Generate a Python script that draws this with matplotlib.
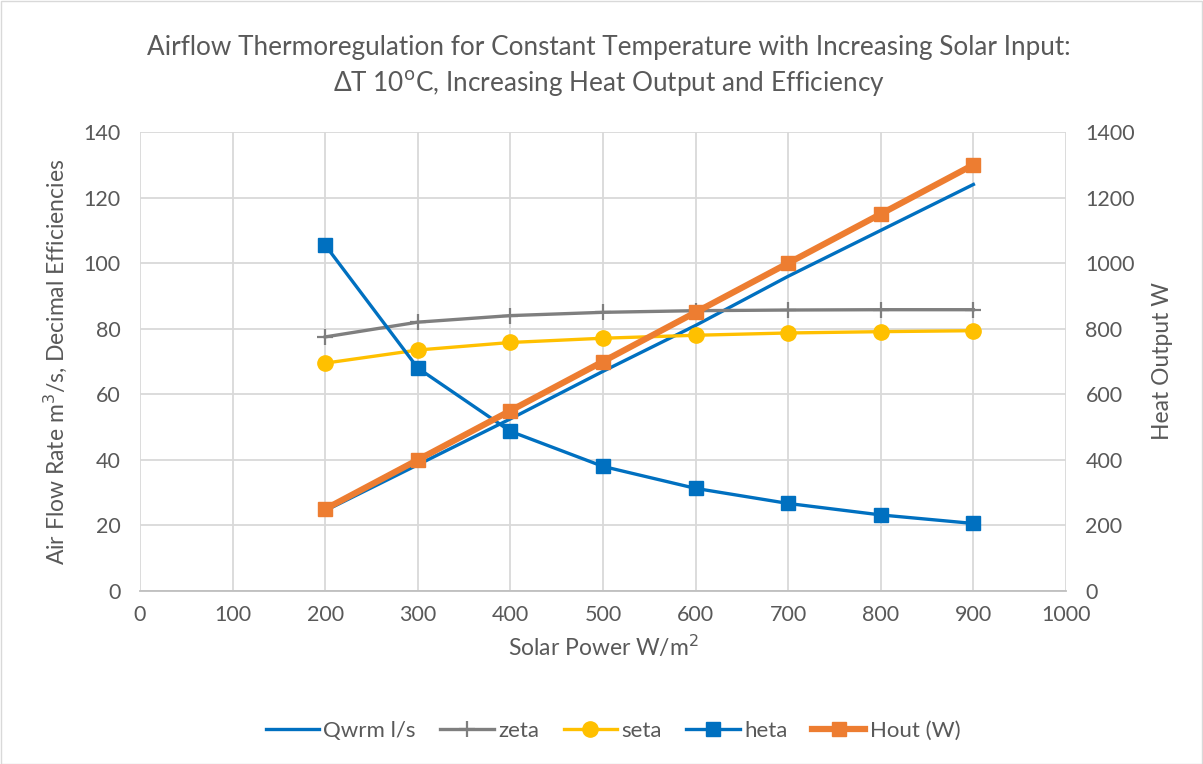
import matplotlib
matplotlib.use("Agg")
import matplotlib.pyplot as plt
from matplotlib.patches import Rectangle

plt.rcParams['font.family'] = ['Lato', 'DejaVu Sans']

solar = [200, 300, 400, 500, 600, 700, 800, 900]
qwrm = [24.5, 38.5, 52.5, 67, 81, 96, 110, 124]
zeta = [77.5, 82, 84, 85, 85.5, 85.7, 85.8, 85.8]
seta = [69.5, 73.5, 75.8, 77.1, 78.0, 78.7, 79.1, 79.4]
heta = [105.5, 68, 48.7, 38, 31.3, 26.7, 23.2, 20.6]
hout = [250, 400, 550, 700, 850, 1000, 1150, 1300]

xticks = list(range(0, 1001, 100))
yticks_left = list(range(0, 141, 20))
yticks_right = list(range(0, 1401, 200))

W, H = 1203, 764
fig = plt.figure(figsize=(W / 100, H / 100), dpi=100)
fig.patches.append(Rectangle((0.5 / W, 0.5 / H), 1 - 1.5 / W, 1 - 1.5 / H, transform=fig.transFigure,
                             fill=False, edgecolor='#d9d9d9', linewidth=1))
ax = fig.add_axes([140 / W, 1 - 591 / H, (1066 - 140) / W, (591 - 132) / H])
ax2 = ax.twinx()

txt = '#595959'
grid = '#d9d9d9'

ax.set_xlim(0, 1000)
ax.set_ylim(0, 140)
ax2.set_ylim(0, 1400)
ax.set_xticks(xticks)
ax.set_yticks(yticks_left)
ax2.set_yticks(yticks_right)
ax.grid(True, color=grid, linewidth=1.3)
ax.set_axisbelow(True)
for a in (ax, ax2):
    for s in a.spines.values():
        s.set_visible(False)
    a.tick_params(length=0, labelsize=15.5, colors=txt, pad=14)
ax.tick_params(axis='x', pad=10)
ax.spines['bottom'].set_visible(True)
ax.spines['bottom'].set_color('#bfbfbf')
ax.spines['bottom'].set_linewidth(1.3)

l1, = ax.plot(solar, qwrm, color='#0070c0', linewidth=2.4, label='Qwrm l/s', zorder=3)
l2, = ax.plot(solar, zeta, color='#7f7f7f', linewidth=2.4, marker='+', markersize=11,
              markeredgewidth=1.6, label='zeta', zorder=3)
l3, = ax.plot(solar, seta, color='#ffc000', linewidth=2.4, marker='o', markersize=11, label='seta', zorder=3)
l4, = ax.plot(solar, heta, color='#0070c0', linewidth=2.4, marker='s', markersize=10, label='heta', zorder=3)
l5, = ax2.plot(solar, hout, color='#ed7d31', linewidth=4.5, marker='s', markersize=10.5, label='Hout (W)', zorder=3)

ax.set_xlabel('Solar Power W/m$^2$', fontsize=16.5, color=txt, labelpad=6)
ax.set_ylabel('Air Flow Rate m$^3$/s, Decimal Efficiencies', fontsize=16.5, color=txt, labelpad=10)
ax2.set_ylabel('Heat Output W', fontsize=16.5, color=txt, labelpad=12)

fig.text(609 / W, 1 - 47 / H,
         'Airflow Thermoregulation for Constant Temperature with Increasing Solar Input:',
         ha='center', va='center', fontsize=18.8, color=txt)
fig.text(609 / W, 1 - 83 / H,
         '\u0394T 10$^{\\mathrm{o}}$C, Increasing Heat Output and Efficiency',
         ha='center', va='center', fontsize=18.8, color=txt)

leg = fig.legend(handles=[l1, l2, l3, l4, l5], loc='center', bbox_to_anchor=(613 / W, 1 - 731 / H),
                 ncol=5, frameon=False, fontsize=16, labelcolor=txt, handlelength=2.4,
                 columnspacing=1.1, handletextpad=0.2)

fig.savefig('out.png', dpi=100)
